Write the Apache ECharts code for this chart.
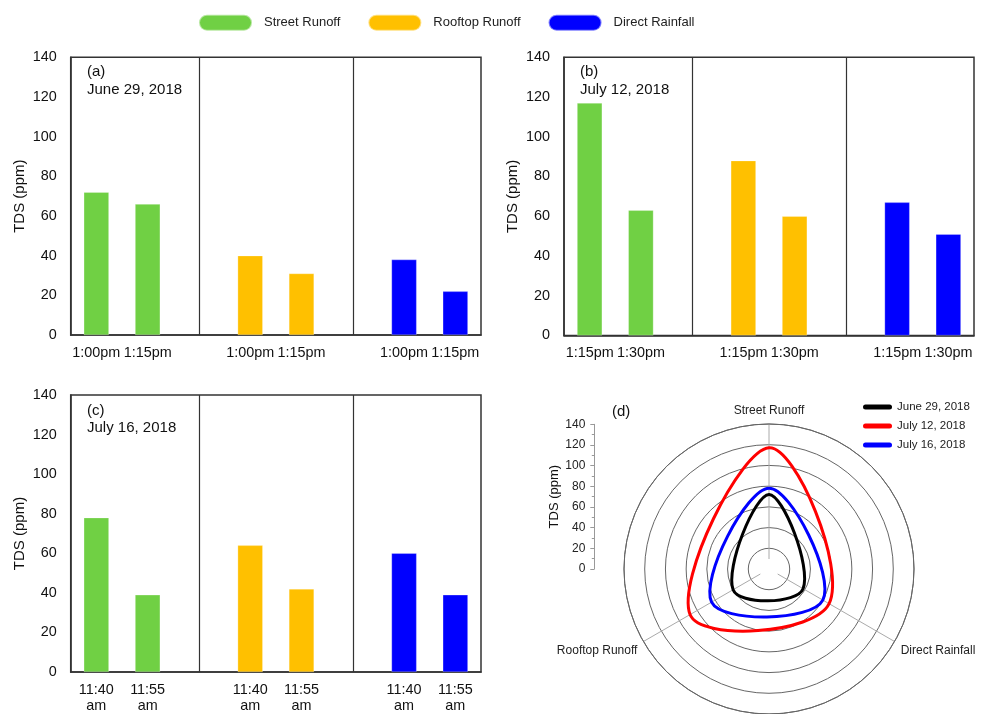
<!DOCTYPE html>
<html><head><meta charset="utf-8">
<script src="https://cdn.jsdelivr.net/npm/echarts@6/dist/echarts.min.js"></script>
<style>html,body{margin:0;padding:0;background:#fff}#c{width:984px;height:714px}</style>
</head><body><div id="c"></div>
<script>
// ---- data ----
const groups = ['Street Runoff', 'Rooftop Runoff', 'Direct Rainfall'];
const timesA = ['1:00pm', '1:15pm'];
const timesB = ['1:15pm', '1:30pm'];
const timesC = ['11:40\nam', '11:55\nam'];
const streetA = [72, 66], rooftopA = [40, 31], directA = [38, 22];
const streetB = [117, 63], rooftopB = [88, 60], directB = [67, 51];
const streetC = [78, 39], rooftopC = [64, 42], directC = [60, 39];
const dates = ['June 29, 2018', 'July 12, 2018', 'July 16, 2018'];
const panelTags = ['(a)', '(b)', '(c)', '(d)'];
const radarAxes = ['Street Runoff', 'Direct Rainfall', 'Rooftop Runoff'];
const radarJune29 = [72, 38, 40];
const radarJuly12 = [117, 67, 88];
const radarJuly16 = [78, 60, 64];
const yName = 'TDS (ppm)';

// ---- style ----
const FONT = 'Liberation Sans, Arial, Helvetica, sans-serif';
const groupColors = ['#70D044', '#FFC000', '#0000FF'];
const dateColors = ['#000000', '#FF0000', '#0000FF'];
const AX = '#333';

const panels = [
  { times: timesA, vals: [streetA, rooftopA, directA], grid: { left: 70.7, top: 57.3, width: 410.3, height: 277.7 }, nameGap: 43, tagX: 87, tagY: 73, dateY: 91, date: dates[0], tag: panelTags[0] },
  { times: timesB, vals: [streetB, rooftopB, directB], grid: { left: 564, top: 57.3, width: 410, height: 278.2 }, nameGap: 43.5, tagX: 580, tagY: 73, dateY: 91, date: dates[1], tag: panelTags[1] },
  { times: timesC, vals: [streetC, rooftopC, directC], grid: { left: 70.7, top: 395, width: 410.3, height: 278.3 }, nameGap: 43, tagX: 87, tagY: 412, dateY: 429, date: dates[2], tag: panelTags[2] }
];

const slots = ['0', '1', '2', '3', '4', '5', '6', '7'];
const grids = [], xAxes = [], yAxes = [], series = [], graphics = [];

panels.forEach((p, pi) => {
  const slotLabels = slots.map(() => '');
  p.times.forEach((t, k) => { for (let g = 0; g < 3; g++) slotLabels[g * 3 + k] = t; });
  grids.push(Object.assign({ show: true, borderColor: AX, borderWidth: 1.5, backgroundColor: 'transparent' }, p.grid));
  xAxes.push({
    gridIndex: pi, type: 'category', data: slots, boundaryGap: true,
    axisTick: { show: false },
    axisLine: { show: true, lineStyle: { color: AX, width: 1.5 } },
    axisLabel: { interval: 0, formatter: (v, i) => slotLabels[i], fontSize: 14.4, color: '#111', margin: 10, lineHeight: 16, fontFamily: FONT }
  });
  yAxes.push({
    gridIndex: pi, type: 'value', min: 0, max: 140, interval: 20,
    splitLine: { show: false }, axisTick: { show: false },
    axisLine: { show: true, lineStyle: { color: AX, width: 1.5 } },
    axisLabel: { fontSize: 14.4, color: '#111', margin: 14, fontFamily: FONT },
    name: yName, nameLocation: 'middle', nameGap: p.nameGap,
    nameTextStyle: { fontSize: 15, color: '#111', fontFamily: FONT }
  });
  groups.forEach((gname, g) => {
    const data = slots.map(() => '-');
    p.vals[g].forEach((v, k) => { data[g * 3 + k] = v; });
    const s = {
      name: gname, type: 'bar', xAxisIndex: pi, yAxisIndex: pi, stack: 'p' + pi,
      barWidth: '49%', data: data,
      itemStyle: { color: groupColors[g], borderColor: 'rgba(255,255,255,0.5)', borderWidth: 0.5 }
    };
    if (g === 0) {
      s.markLine = {
        silent: true, symbol: 'none', label: { show: false },
        lineStyle: { color: AX, width: 1.2, type: 'solid' },
        data: [{ xAxis: '2' }, { xAxis: '5' }]
      };
    }
    series.push(s);
  });
  graphics.push({ type: 'text', left: p.tagX, top: p.tagY - 9, style: { text: p.tag, fontSize: 15, fill: '#111', fontFamily: FONT } });
  graphics.push({ type: 'text', left: p.tagX, top: p.dateY - 9, style: { text: p.date, fontSize: 15, fill: '#111', fontFamily: FONT } });
});

// ---- panel (d) radial axis on the left ----
grids.push({ left: 594.3, top: 424.3, width: 1, height: 144.7, show: false });
xAxes.push({ gridIndex: 3, type: 'value', show: false, min: 0, max: 1 });
yAxes.push({
  gridIndex: 3, type: 'value', min: 0, max: 140, interval: 20,
  splitLine: { show: false },
  axisLine: { show: true, lineStyle: { color: '#999', width: 1 } },
  axisTick: { show: true, length: 4, lineStyle: { color: '#999' } },
  minorTick: { show: true, splitNumber: 2, length: 2.5, lineStyle: { color: '#999' } },
  axisLabel: { fontSize: 12, color: '#222', margin: 9, fontFamily: FONT },
  name: yName, nameLocation: 'middle', nameGap: 27,
  nameTextStyle: { fontSize: 13, color: '#111', fontFamily: FONT }
});
graphics.push({ type: 'text', left: 612, top: 404, style: { text: panelTags[3], fontSize: 15, fill: '#111', fontFamily: FONT } });

const radarSets = [radarJune29, radarJuly12, radarJuly16];
radarSets.forEach((vals, di) => {
  series.push({
    name: dates[di], type: 'custom', coordinateSystem: 'polar', polarIndex: 0,
    itemStyle: { color: dateColors[di] },
    data: vals.map((v, i) => [v, i]),
    renderItem: function (params, api) {
      if (params.dataIndex !== 0) return null;
      const pts = vals.map((v, i) => api.coord([v, i]));
      return {
        type: 'polygon',
        shape: { points: pts, smooth: 0.4 },
        style: { fill: 'none', stroke: dateColors[di], lineWidth: 3 }
      };
    },
    z: 5
  });
});

const pill = 'path://M8,0 L45,0 A8,8 0 0 1 45,16 L8,16 A8,8 0 0 1 8,0 Z';
const thinPill = 'path://M2.5,0 L26.5,0 A2.5,2.5 0 0 1 26.5,5 L2.5,5 A2.5,2.5 0 0 1 2.5,0 Z';

const option = {
  animation: false,
  backgroundColor: '#fff',
  textStyle: { fontFamily: FONT },
  grid: grids, xAxis: xAxes, yAxis: yAxes,
  polar: { center: [769, 569], radius: 145 },
  radiusAxis: {
    type: 'value', min: 0, max: 140, interval: 20,
    axisLine: { show: false }, axisTick: { show: false }, axisLabel: { show: false },
    splitLine: { show: true, lineStyle: { color: '#666', width: 1 } }
  },
  angleAxis: {
    type: 'category', data: radarAxes, boundaryGap: true, startAngle: 150, clockwise: true,
    axisLine: { show: true, lineStyle: { color: '#666', width: 1 } },
    axisTick: { show: true, alignWithLabel: true, inside: true, length: 135, lineStyle: { color: '#aaa', width: 1 } },
    splitLine: { show: false },
    axisLabel: { fontSize: 12, color: '#222', margin: 7, fontFamily: FONT }
  },
  legend: [
    {
      data: groups, left: 198, top: 13.7, padding: 0, itemWidth: 53, itemHeight: 16, itemGap: 27,
      icon: pill, textStyle: { fontSize: 13, color: '#222', padding: [0, 0, 0, 7], fontFamily: FONT },
      selectedMode: false
    },
    {
      data: dates, orient: 'vertical', left: 863, top: 401, padding: 0, itemWidth: 29, itemHeight: 5, itemGap: 7,
      icon: thinPill, textStyle: { fontSize: 11.5, color: '#222', fontFamily: FONT },
      selectedMode: false
    }
  ],
  graphic: graphics,
  series: series
};

const chart = echarts.init(document.getElementById('c'), null, { renderer: 'canvas' });
chart.setOption(option);
</script>
</body></html>
